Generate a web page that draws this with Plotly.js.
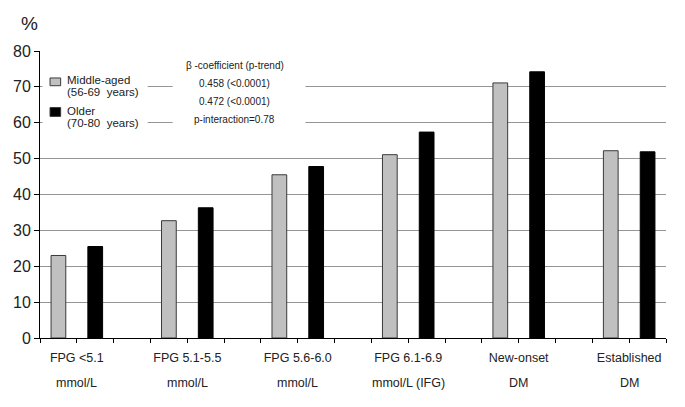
<!DOCTYPE html>
<html>
<head>
<meta charset="utf-8">
<script src="https://cdn.plot.ly/plotly-3.0.1.min.js"></script>
<style>
	html, body { margin: 0; padding: 0; background: #fff; }
	#chart { width: 685px; height: 407px; }
</style>
</head>
<body>
<div id="chart"></div>
<script>
// categories, two label lines each
const labelTop = ['FPG <5.1', 'FPG 5.1-5.5', 'FPG 5.6-6.0', 'FPG 6.1-6.9', 'New-onset', 'Established'],
	labelBottom = ['mmol/L', 'mmol/L', 'mmol/L', 'mmol/L (IFG)', 'DM', 'DM'],
	middleAged = [23.0, 32.7, 45.5, 51.1, 71.1, 52.2],
	older = [25.5, 36.3, 47.8, 57.4, 74.2, 51.9],
	seriesNames = ['Middle-aged', 'Older'],
	ageRanges = ['(56-69  years)', '(70-80  years)'],
	statLines = ['\u03B2 -coefficient (p-trend)', '0.458 (<0.0001)', '0.472 (<0.0001)', 'p-interaction=0.78'],
	yTicks = [0, 10, 20, 30, 40, 50, 60, 70, 80];

const FONT = 'Liberation Sans, Arial, sans-serif',
	SLOTS = 3; // gray, black, empty gap

var catIdx = labelTop.map((d, i) => i),
	grayX = catIdx.map(i => i * SLOTS),
	blackX = catIdx.map(i => i * SLOTS + 1),
	labelX = catIdx.map(i => i * SLOTS + 0.5);

var traces = [{
		type: 'bar',
		name: seriesNames[0],
		x: grayX,
		y: middleAged,
		width: 0.4,
		marker: { color: '#c0c0c0', line: { color: '#3a3a3a', width: 1 } },
		showlegend: false,
		hoverinfo: 'y'
	}, {
		type: 'bar',
		name: seriesNames[1],
		x: blackX,
		y: older,
		width: 0.4,
		marker: { color: '#000', line: { color: '#000', width: 1 } },
		showlegend: false,
		hoverinfo: 'y'
	}];

var annotations = [],
	shapes = [];

// second line of category labels
labelBottom.forEach(function (t, i) {
	annotations.push({
		text: t, x: labelX[i], xref: 'x', y: 0, yref: 'paper',
		yshift: -45, yanchor: 'middle', showarrow: false,
		font: { family: FONT, size: 12.5, color: '#222' }
	});
});

// '%' unit label
annotations.push({
	text: '%', x: -0.034, xref: 'paper', y: 1.14, yref: 'paper',
	showarrow: false, font: { family: FONT, size: 19, color: '#222' }
});

// white boxes hiding the gridlines behind legend and stats text
shapes.push({ type: 'rect', xref: 'paper', yref: 'paper', layer: 'above',
	x0: 0.004, x1: 0.172, y0: 0.71, y1: 0.985, fillcolor: '#fff', line: { width: 0 } });
shapes.push({ type: 'rect', xref: 'paper', yref: 'paper', layer: 'above',
	x0: 0.212, x1: 0.424, y0: 0.71, y1: 0.985, fillcolor: '#fff', line: { width: 0 } });

// hand drawn legend
var swatch = ['#c0c0c0', '#000'],
	swatchY = [[0.879, 0.906], [0.772, 0.803]],
	nameY = [0.900, 0.790],
	rangeY = [0.858, 0.750];
seriesNames.forEach(function (n, i) {
	shapes.push({ type: 'rect', xref: 'paper', yref: 'paper', layer: 'above',
		x0: 0.016, x1: 0.033, y0: swatchY[i][0], y1: swatchY[i][1],
		fillcolor: swatch[i], line: { color: '#3a3a3a', width: 1 } });
	annotations.push({ text: n, x: 0.040, xref: 'paper', y: nameY[i], yref: 'paper',
		xanchor: 'left', yanchor: 'middle', showarrow: false,
		font: { family: FONT, size: 11.5, color: '#222' } });
	annotations.push({ text: ageRanges[i], x: 0.040, xref: 'paper', y: rangeY[i], yref: 'paper',
		xanchor: 'left', yanchor: 'middle', showarrow: false,
		font: { family: FONT, size: 11.5, color: '#222' } });
});

var statY = [0.950, 0.886, 0.824, 0.761];
statLines.forEach(function (t, i) {
	annotations.push({ text: t, x: 0.3115, xref: 'paper', y: statY[i], yref: 'paper',
		xanchor: 'center', yanchor: 'middle', showarrow: false,
		font: { family: FONT, size: 10, color: '#222' } });
});

var layout = {
	width: 685,
	height: 407,
	margin: { l: 40, r: 19, t: 51, b: 69, pad: 0 },
	paper_bgcolor: '#fff',
	plot_bgcolor: '#fff',
	font: { family: FONT, color: '#222' },
	bargap: 0,
	xaxis: {
		type: 'linear',
		range: [-0.5, labelTop.length * SLOTS - 1.5],
		tickmode: 'array',
		tickvals: labelX,
		ticktext: labelTop,
		ticks: 'outside',
		ticklen: 4,
		tickcolor: '#000',
		ticklabelstandoff: 4,
		tickfont: { family: FONT, size: 12.5, color: '#222' },
		minor: { tickmode: 'linear', tick0: -0.5, dtick: 1, ticks: 'outside', ticklen: 4, tickcolor: '#000', showgrid: false },
		showgrid: false,
		zeroline: false,
		showline: true,
		linecolor: '#000',
		linewidth: 1,
		fixedrange: true
	},
	yaxis: {
		range: [0, 80],
		tickmode: 'array',
		tickvals: yTicks,
		ticks: 'outside',
		ticklen: 5,
		tickcolor: '#000',
		tickfont: { family: FONT, size: 16, color: '#222' },
		showgrid: true,
		gridcolor: '#959595',
		gridwidth: 1,
		zeroline: false,
		showline: true,
		linecolor: '#000',
		linewidth: 1,
		fixedrange: true
	},
	shapes: shapes,
	annotations: annotations
};

Plotly.newPlot('chart', traces, layout, { staticPlot: true, displayModeBar: false });
</script>
</body>
</html>
